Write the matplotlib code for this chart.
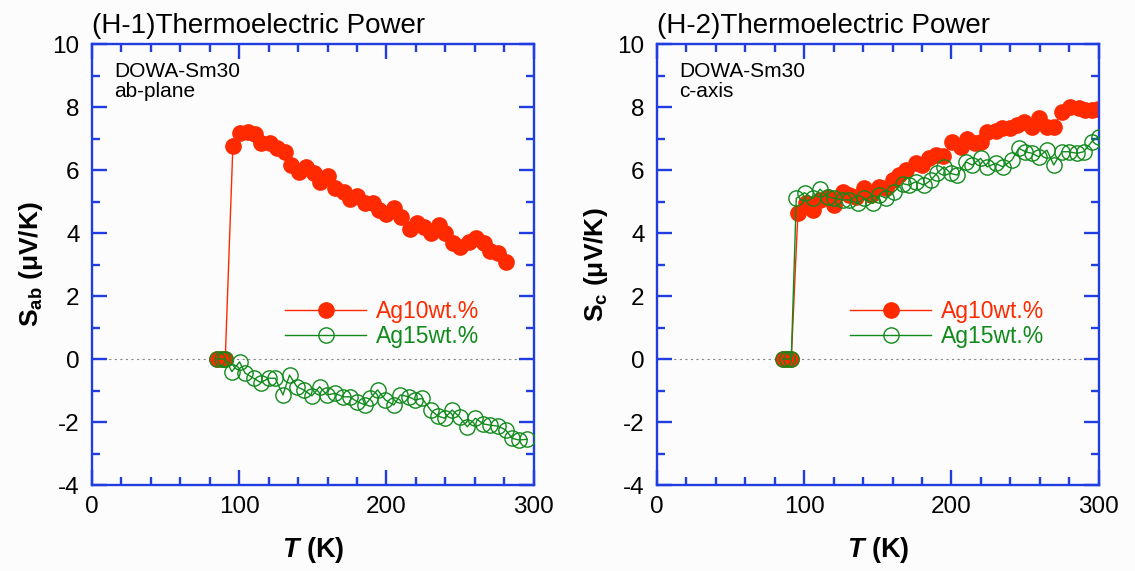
import numpy as np
import matplotlib
matplotlib.use("Agg")
import matplotlib.pyplot as plt
from matplotlib.ticker import MultipleLocator

plt.rcParams['font.family'] = ['Liberation Sans', 'DejaVu Sans']
plt.rcParams['mathtext.fontset'] = 'custom'
plt.rcParams['mathtext.rm'] = 'Liberation Sans'
plt.rcParams['mathtext.it'] = 'Liberation Sans:italic'
plt.rcParams['mathtext.bf'] = 'Liberation Sans:bold'
plt.rcParams['mathtext.bfit'] = 'Liberation Sans:bold:italic'
plt.rcParams['axes.unicode_minus'] = False

# ---- data ----
# H-1 : ab-plane
t_ab_10 = [85, 88, 90.5, 95.7, 100.7, 105.7, 110.9, 114.7, 121.1, 125.6, 131.3, 135.4, 140.4,
           145.6, 151, 155, 160.3, 165.3, 171, 175, 180, 185.7, 191, 194.8, 200, 205.4, 210,
           215.9, 220.9, 225.4, 230.4, 235.6, 240.1, 245.4, 250.3, 256, 261, 266.2, 270.3,
           275.7, 281]
s_ab_10 = [0, 0, 0, 6.76, 7.16, 7.22, 7.14, 6.85, 6.87, 6.69, 6.58, 6.16, 5.95,
           6.08, 5.92, 5.63, 5.81, 5.42, 5.31, 5.07, 5.17, 4.94, 4.96, 4.73, 4.6, 4.78, 4.52,
           4.12, 4.31, 4.18, 3.99, 4.25, 3.99, 3.69, 3.57, 3.72, 3.83, 3.67, 3.44,
           3.35, 3.09]
t_ab_15 = [85, 88, 90.5, 95, 100.2, 104, 109.8, 114.7, 120, 124.5, 129.7, 134.2, 139.2, 143.8,
           149.4, 154.6, 159.6, 165.3, 170.5, 175, 180, 185.7, 189, 194, 199.3, 205, 209.5,
           215.2, 219.7, 224.3, 230, 235, 239.5, 244.7, 249.9, 254.9, 260.5, 265.8, 270.7,
           275.7, 281, 285.5, 290, 295.7]
s_ab_15 = [0, 0, 0, -0.40, -0.09, -0.45, -0.61, -0.75, -0.61, -0.61, -1.14, -0.51, -0.88, -0.98,
           -1.17, -0.88, -1.14, -1.09, -1.2, -1.2, -1.35, -1.46, -1.25, -0.98, -1.3, -1.46, -1.14,
           -1.2, -1.3, -1.25, -1.62, -1.81, -1.88, -1.62, -1.85, -2.15, -1.88, -2.06, -2.1,
           -2.13, -2.25, -2.52, -2.57, -2.55]

# H-2 : c-axis
t_c_10 = [85.5, 88.5, 91.2, 95.7, 101.3, 105.8, 110.8, 116, 120.5, 126.2, 130.7, 135.2, 140.8,
          145.4, 151, 155.5, 160, 164.5, 169, 175.8, 180.3, 184.8, 189.4, 194.5, 200.6, 206.3,
          210.8, 216, 219.8, 224.3, 230, 234.5, 240.1, 244.6, 249.2, 254.8, 259.3, 264.9,
          269.5, 275.1, 280.8, 286.4, 290.9, 295.4, 299.5]
s_c_10 = [0, 0, 0, 4.62, 4.94, 4.73, 5.05, 5.15, 4.89, 5.31, 5.2, 5.15, 5.42,
          5.2, 5.47, 5.42, 5.68, 5.84, 6.0, 6.23, 6.16, 6.37, 6.48, 6.45, 6.9, 6.74,
          7.0, 6.85, 6.9, 7.22, 7.25, 7.32, 7.32, 7.43, 7.53, 7.37, 7.64, 7.37,
          7.37, 7.85, 7.99, 7.96, 7.9, 7.9, 7.95]
t_c_15 = [85.5, 88.5, 91.2, 94.6, 100.2, 105.8, 110.8, 116, 120.5, 126.2, 130.7, 136.3, 140.8,
          146.5, 151, 155.8, 161.1, 166.8, 171.3, 175.8, 181.4, 186, 190.5, 195, 199.5, 204,
          209.7, 214.2, 219.8, 224.3, 230, 235, 241.2, 245.8, 250.3, 254.8, 259.3, 264.9,
          269.5, 275.1, 279.6, 285.3, 289.8, 295.4, 300]
s_c_15 = [0, 0, 0, 5.1, 5.28, 5.1, 5.39, 5.15, 5.1, 5.05, 5.05, 4.94, 5.1,
          4.94, 5.2, 5.1, 5.31, 5.57, 5.52, 5.63, 5.52, 5.68, 5.91, 6.1, 5.89, 5.84,
          6.26, 6.16, 6.37, 6.1, 6.21, 6.1, 6.32, 6.69, 6.58, 6.53, 6.42, 6.63,
          6.16, 6.58, 6.58, 6.53, 6.58, 6.9, 7.06]

panels = [
    ("(H-1)Thermoelectric Power", "ab-plane", r"$\mathbf{S}_{\mathbf{ab}}$", t_ab_10, s_ab_10, t_ab_15, s_ab_15),
    ("(H-2)Thermoelectric Power", "c-axis", r"$\mathbf{S}_{\mathbf{c}}$", t_c_10, s_c_10, t_c_15, s_c_15),
]

RED = '#ff2a00'
GREEN = '#118a1c'
BLUE = '#1f3de0'
BG = '#fcfcfc'

fig = plt.figure(figsize=(11.35, 5.71), dpi=100, facecolor=BG)
lefts = [0.0811, 0.5789]

for (title, plane, slab, t10, s10, t15, s15), left in zip(panels, lefts):
    ax = fig.add_axes([left, 0.1506, 0.389, 0.7723], facecolor=BG)
    ax.plot([0, 300], [0, 0], ls=(0, (2, 3)), color='#888888', lw=0.8, zorder=1)
    ax.plot(t10, s10, '-o', color=RED, lw=1.0, ms=11, mfc=RED, mec=RED, mew=1,
            label='Ag10wt.%', zorder=2)
    ax.plot(t15, s15, '-o', color=GREEN, lw=1.0, ms=11, mfc='none', mec=GREEN, mew=1.0,
            label='Ag15wt.%', zorder=3)

    ax.set_xlim(0, 300)
    ax.set_ylim(-4, 10)
    ax.xaxis.set_major_locator(MultipleLocator(100))
    ax.xaxis.set_minor_locator(MultipleLocator(20))
    ax.yaxis.set_major_locator(MultipleLocator(2))
    ax.yaxis.set_minor_locator(MultipleLocator(1))
    for sp in ax.spines.values():
        sp.set_color(BLUE)
        sp.set_linewidth(1.7)
    ax.tick_params(which='both', direction='in', top=True, right=True, color=BLUE,
                   width=1.7, labelsize=17.5, labelcolor='black')
    ax.tick_params(which='major', length=11)
    ax.tick_params(which='minor', length=6)
    ax.tick_params(axis='x', pad=8)
    ax.tick_params(axis='y', pad=9)

    ax.set_title(title, loc='left', fontsize=20, pad=8)
    ax.text(0.05, 0.96, "DOWA-Sm30\n" + plane, transform=ax.transAxes, fontsize=15,
            va='top', ha='left', linespacing=1.1)
    ax.set_xlabel(r"$\mathbfit{T}$ (K)", fontsize=19.5, fontweight='bold', labelpad=12)
    ax.set_ylabel(slab + " (μV/K)", fontsize=19, fontweight='bold', labelpad=5)

    leg = ax.legend(loc='upper left', bbox_to_anchor=(0.438, 0.42), frameon=False,
                    fontsize=16.5, handlelength=3.5, handletextpad=0.45, labelspacing=0.08,
                    borderpad=0, borderaxespad=0)
    for txt, c in zip(leg.get_texts(), [RED, GREEN]):
        txt.set_color(c)

fig.savefig('out.png', dpi=100, facecolor=BG)
